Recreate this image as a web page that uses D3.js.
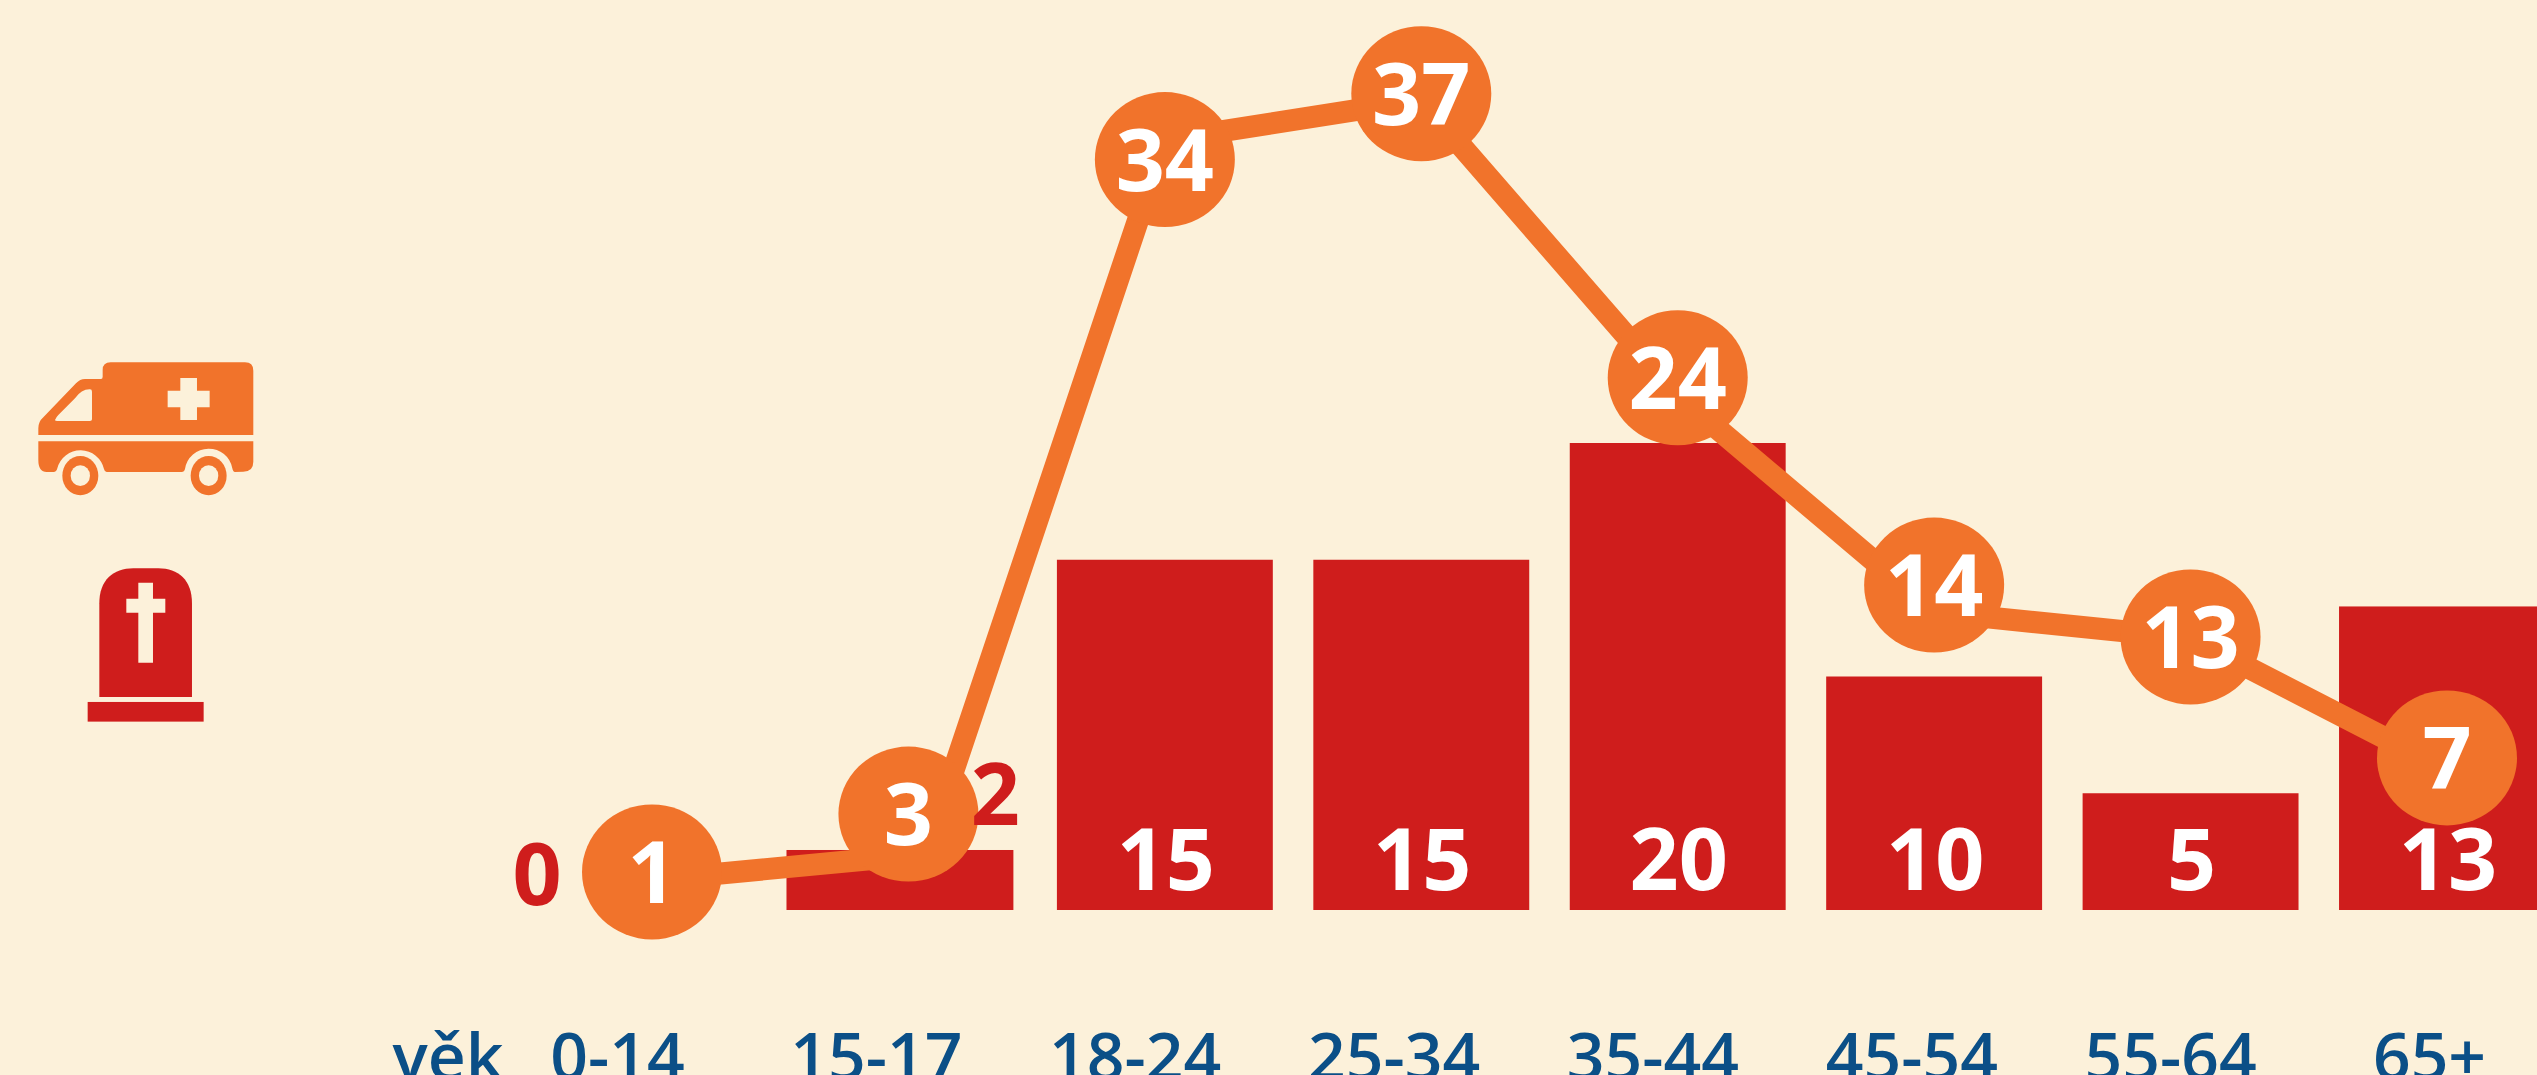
<!DOCTYPE html>
<html>
<head>
<meta charset="utf-8">
<script src="https://cdn.jsdelivr.net/npm/d3@7"></script>
<style>
  html, body { margin: 0; padding: 0; background: #fcf1da; overflow: hidden; }
  svg { display: block; }
  text { font-family: "Open Sans", sans-serif; }
</style>
</head>
<body>
<div id="chart"></div>
<script>
var svgWidth = 2537;
var svgHeight = 1075;

var ageGroups = ["0-14", "15-17", "18-24", "25-34", "35-44", "45-54", "55-64", "65+"];
var axisTitle = "věk";

// printed numbers
var deathLabels = [0, 2, 15, 15, 20, 10, 5, 13];
var injuredLabels = [1, 3, 34, 37, 24, 14, 13, 7];

// the original is hand placed, so the drawn heights are not quite the printed numbers
var deathHeights = [0, 2.57, 15, 15, 20, 10, 5, 13];
var injuredHeights = [1.02, 3.7, 34, 37.05, 23.9, 14.3, 11.9, 6.3];
var lineHeights = [0.65, 1.85, 34.9, 36.76, 23.1, 13.06, 11.85, 5.74];

var bg = "#fcf1da";
var red = "#cf1d1c";
var orange = "#f1732b";
var blue = "#0b4f87";

var svg = d3.select("#chart")
  .append("svg")
  .attr("width", svgWidth)
  .attr("height", svgHeight);

svg.append("rect")
  .attr("width", svgWidth)
  .attr("height", svgHeight)
  .attr("fill", bg);

// scales
var xPoint = d3.scalePoint().domain(ageGroups).range([652, 2447]);
var xBand = d3.scaleBand().domain(ageGroups)
  .range([652 - 128.2, 2447 + 128.2])
  .paddingInner(0.158)
  .paddingOuter(0.079);
var xLabels = d3.scalePoint().domain(ageGroups).range([617, 2429]);
var yBar = d3.scaleLinear().domain([0, 20]).range([910, 443]);
var yInjured = d3.scaleLinear().domain([0, 40]).range([894, 30]);

// bars, the short 15-17 one is a bit wider and further left in the original
svg.append("g").selectAll("rect")
  .data(ageGroups)
  .enter()
  .append("rect")
  .attr("x", (d, i) => xBand(d) - (i === 1 ? 14 : 0))
  .attr("y", (d, i) => yBar(deathHeights[i]))
  .attr("width", (d, i) => xBand.bandwidth() + (i === 1 ? 11 : 0))
  .attr("height", (d, i) => yBar(0) - yBar(deathHeights[i]))
  .attr("fill", red);

// line, the bend under the "3" marker sits right of its slot
var line = d3.line()
  .x((d, i) => xPoint(ageGroups[i]) + (i === 1 ? 17 : 0))
  .y(d => yInjured(d));

svg.append("path")
  .datum(lineHeights)
  .attr("d", line)
  .attr("fill", "none")
  .attr("stroke", orange)
  .attr("stroke-width", 22)
  .attr("stroke-linejoin", "round");

// markers
svg.append("g").selectAll("ellipse")
  .data(ageGroups)
  .enter()
  .append("ellipse")
  .attr("cx", d => xPoint(d))
  .attr("cy", (d, i) => yInjured(injuredHeights[i]))
  .attr("rx", 70)
  .attr("ry", 67.5)
  .attr("fill", orange);

svg.append("g").selectAll("text")
  .data(ageGroups)
  .enter()
  .append("text")
  .attr("x", d => xPoint(d))
  .attr("y", (d, i) => yInjured(injuredHeights[i]) + 31)
  .attr("text-anchor", "middle")
  .attr("font-size", 86)
  .attr("font-weight", 700)
  .attr("fill", "#fff")
  .text((d, i) => injuredLabels[i]);

// bar numbers, the two that do not fit go beside the bar in red
svg.append("g").selectAll("text")
  .data(ageGroups)
  .enter()
  .append("text")
  .attr("x", (d, i) => xPoint(d) + (i === 0 ? -115 : i === 1 ? 87 : 1))
  .attr("y", (d, i) => i === 0 ? 905 : i === 1 ? 825 : 890)
  .attr("text-anchor", "middle")
  .attr("font-size", 86)
  .attr("font-weight", 700)
  .attr("fill", (d, i) => i < 2 ? red : "#fff")
  .text((d, i) => deathLabels[i]);

// x axis, cut off by the bottom of the picture like the original
var bottomAxis = d3.axisBottom(xLabels).tickSize(0).tickPadding(0);
var xAxis = svg.append("g")
  .attr("transform", "translate(0, 1080)")
  .call(bottomAxis);
xAxis.select(".domain").remove();
xAxis.selectAll("text")
  .attr("y", 0)
  .attr("dy", 0)
  .attr("font-size", 66)
  .attr("font-weight", 600)
  .attr("font-family", "Open Sans")
  .attr("fill", blue);

svg.append("text")
  .attr("x", 448)
  .attr("y", 1080)
  .attr("text-anchor", "middle")
  .attr("font-size", 66)
  .attr("font-weight", 600)
  .attr("fill", blue)
  .text(axisTitle);

// icons, drawn at 3x and scaled down
var icons = svg.append("g")
  .attr("transform", "translate(0, 320) scale(0.3333)");

var ambulance = icons.append("g").attr("fill", orange);
ambulance.append("path")
  .attr("d", "M115 345 V325 Q115 305 130 292 L228 190 Q240 177 255 177 H303 Q308 177 308 170 V150 Q308 127 332 127 H735 Q760 127 760 152 V345 Z");
ambulance.append("path")
  .attr("fill", bg)
  .attr("d", "M165 300 Q168 292 175 285 L225 235 Q245 207 270 208 Q276 208 276 215 V298 Q276 303 270 303 H172 Q165 303 165 300 Z");
ambulance.append("path")
  .attr("fill", bg)
  .attr("d", "M541 174 H591 V212 H629 V262 H591 V300 H541 V262 H503 V212 H541 Z");
ambulance.append("path")
  .attr("d", "M115 364 H760 V425 Q760 455 730 455 L705 456 Q699 456 697 445 A72 72 0 0 0 555 447 Q553 456 545 456 H320 Q314 456 312 447 A72 72 0 0 0 172 445 Q170 456 160 456 H140 Q115 456 115 420 Z");

[241, 626].forEach(function(cx) {
  ambulance.append("ellipse")
    .attr("cx", cx).attr("cy", 467).attr("rx", 54).attr("ry", 59);
  ambulance.append("ellipse")
    .attr("cx", cx).attr("cy", 467).attr("rx", 29).attr("ry", 31)
    .attr("fill", bg);
});

var grave = icons.append("g").attr("fill", red);
grave.append("path")
  .attr("d", "M298 1131 V850 C298 780 340 745 400 745 H475 C535 745 576 780 576 850 V1131 Z");
grave.append("path")
  .attr("fill", bg)
  .attr("d", "M415 788 H459 V836 H496 V878 H459 V1028 H415 V878 H379 V836 H415 Z");
grave.append("rect")
  .attr("x", 263).attr("y", 1146).attr("width", 348).attr("height", 59);
</script>
</body>
</html>
